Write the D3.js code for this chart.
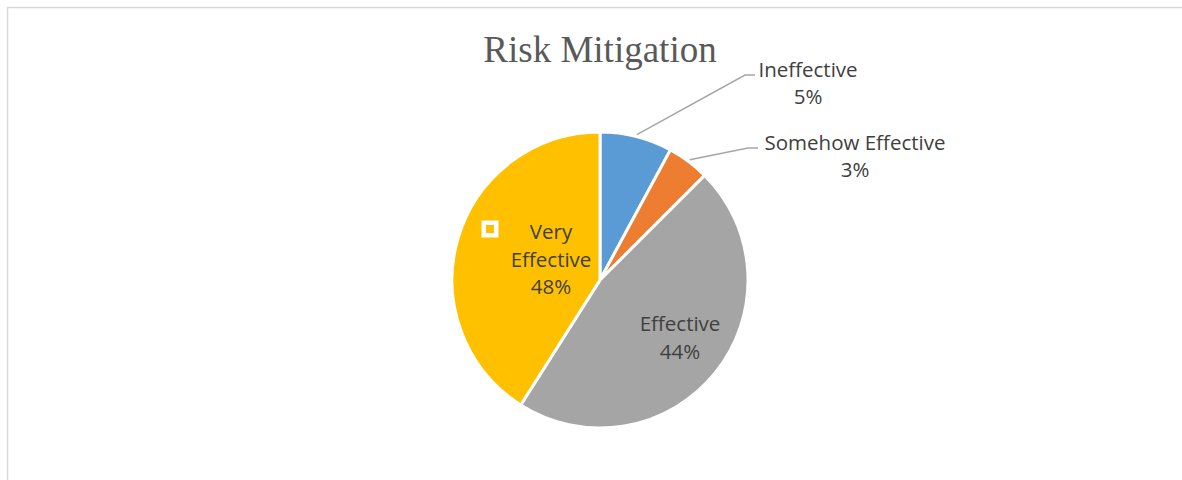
<!DOCTYPE html>
<html>
<meta charset="utf-8">
<script src="https://d3js.org/d3.v7.min.js"></script>
<style>
  body { margin: 0; background: #fff; }
  text { font-family: "Open Sans", sans-serif; }
</style>
<body>
<script>

// chart data
var categories = ["Ineffective", "Somehow Effective", "Effective", "Very Effective"];
var values = [7.9, 4.6, 46.5, 41.0];
var shownPct = ["5%", "3%", "44%", "48%"];
var colors = ["#5b9bd5", "#ed7d31", "#a5a5a5", "#ffc000"];

var width = 1182, height = 480;
var cx = 600, cy = 280, radius = 148;

var svg = d3.select("body").append("svg")
  .attr("width", width)
  .attr("height", height);

// chart frame (runs off the page on right/bottom)
svg.append("rect")
  .attr("x", 7.5).attr("y", 7.5)
  .attr("width", 1300).attr("height", 600)
  .style("fill", "none")
  .style("stroke", "#d9d9d9")
  .style("stroke-width", 1.5);

svg.append("text")
  .attr("x", cx).attr("y", 62)
  .attr("text-anchor", "middle")
  .style("font-family", "'Liberation Serif', 'Times New Roman', serif")
  .style("font-size", "37px")
  .style("fill", "#595959")
  .text("Risk Mitigation");

var pie = d3.pie().sort(null).value(function(d) { return d; });
var arcs = pie(values);
var arc = d3.arc().innerRadius(0).outerRadius(radius);

var g = svg.append("g").attr("transform", "translate(" + cx + "," + cy + ")");

g.selectAll("path")
  .data(arcs)
  .enter().append("path")
  .attr("d", arc)
  .style("fill", function(d, i) { return colors[i]; })
  .style("stroke", "#fff")
  .style("stroke-width", 3);

var labelColor = "#404040";
var fs = "20.5px";

// outside labels with leader lines (first two slices)
var outside = [
  { i: 0, elbow: [145, -205], end: [155, -205], tx: 208, ty: -203 },
  { i: 1, elbow: [148, -132], end: [158, -132], tx: 255, ty: -130 }
];
outside.forEach(function(o) {
  var a = arcs[o.i];
  var mid = (a.startAngle + a.endAngle) / 2;
  var p0 = [Math.sin(mid) * (radius + 2), -Math.cos(mid) * (radius + 2)];
  g.append("polyline")
    .attr("points", [p0, o.elbow, o.end].map(function(p) { return p.join(","); }).join(" "))
    .style("fill", "none")
    .style("stroke", "#a6a6a6")
    .style("stroke-width", 1.5);
  var t = g.append("text")
    .attr("text-anchor", "middle")
    .style("font-size", fs)
    .style("fill", labelColor);
  t.append("tspan").attr("x", o.tx).attr("y", o.ty).text(categories[o.i]);
  t.append("tspan").attr("x", o.tx).attr("y", o.ty + 27).text(shownPct[o.i]);
});

// inside labels
var inside = [
  { i: 2, lines: ["Effective"], x: 80, y: 51 },
  { i: 3, lines: ["Very", "Effective"], x: -49, y: -41 }
];
inside.forEach(function(o) {
  var t = g.append("text")
    .attr("text-anchor", "middle")
    .style("font-size", fs)
    .style("fill", labelColor);
  var rows = o.lines.concat([shownPct[o.i]]);
  rows.forEach(function(s, k) {
    t.append("tspan").attr("x", o.x).attr("y", o.y + k * 27.5).text(s);
  });
});

// legend key inside the very effective label
g.append("rect")
  .attr("x", -116.25).attr("y", -57.25)
  .attr("width", 12.5).attr("height", 12.5)
  .style("fill", colors[3])
  .style("stroke", "#fff")
  .style("stroke-width", 4.5);

</script>
</body>
</html>
